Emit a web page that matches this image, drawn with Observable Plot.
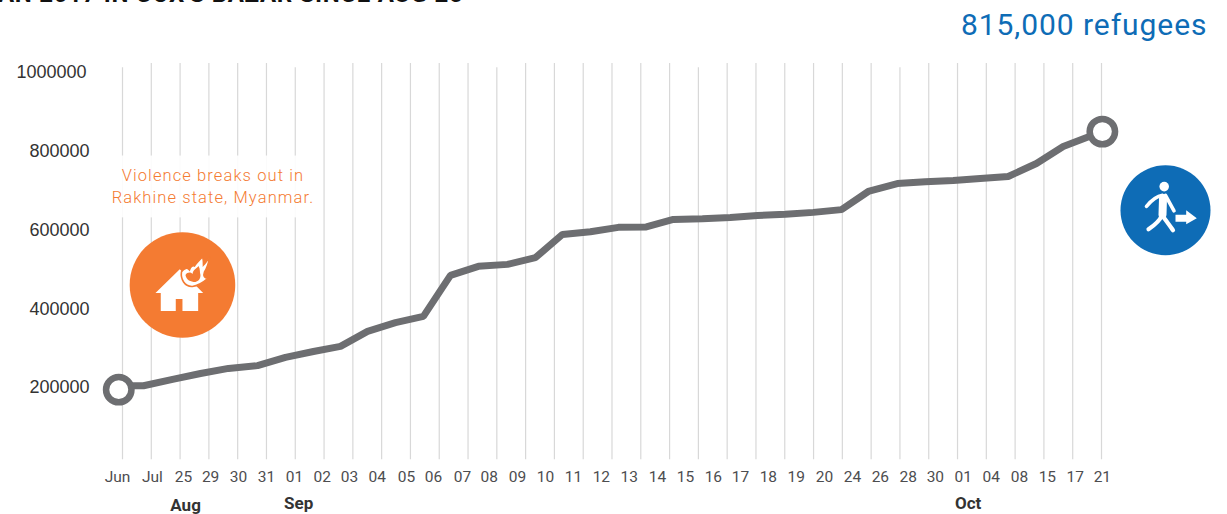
<!DOCTYPE html>
<html>
<head>
<meta charset="utf-8">
<script src="https://cdn.jsdelivr.net/npm/d3@7"></script>
<script src="https://cdn.jsdelivr.net/npm/@observablehq/plot@0.6"></script>
<style>
html,body{margin:0;padding:0;background:#fff;overflow:hidden}
svg{display:block}
.lsNote text{letter-spacing:1.1px}
.lsTotal text{letter-spacing:.95px}
.lsTitle text{letter-spacing:.7px}
</style>
</head>
<body>
<div id="chart"></div>
<script>
const tickLabels = ["Jun","Jul","25","29","30","31","01","02","03","04","05","06","07","08","09","10","11","12","13","14","15","16","17","18","19","20","24","26","28","30","01","04","08","15","17","21"];
const tickPositions = [-0.17,1.04,2.12,3.06,4.03,5.00,5.97,6.94,7.88,8.85,9.86,10.80,11.81,12.74,13.72,14.69,15.66,16.63,17.60,18.58,19.55,20.52,21.46,22.43,23.40,24.38,25.35,26.32,27.29,28.23,29.20,30.17,31.15,32.12,33.09,34.03];
const seriesPositions = [-0.10,0.73,1.74,2.71,3.68,4.69,5.66,6.63,7.57,8.51,9.48,10.45,11.39,12.36,13.37,14.34,15.28,16.25,17.22,18.19,19.13,20.14,21.11,22.05,23.02,23.99,24.97,25.90,26.91,27.88,28.85,29.79,30.76,31.74,32.67,34.03];
const refugees = [205000,205000,221000,236000,249000,256000,277000,292000,305000,343000,365000,381000,485000,508000,513000,530000,589000,596000,607000,608000,627000,629000,632000,637000,640000,645000,652000,698000,718000,723000,726000,731000,736000,769000,812000,850000];
const ringPositions = [-0.13,34.03];
const ringValues = [195000,850000];
const gridLines = d3.range(35);
const shortGridLines = [0,6,13,20,27];
const yTicks = [200000,400000,600000,800000];
const yTopTick = [1000000];
const monthNames = ["Sep","Oct"];
const monthPositions = [6.12,29.37];
const lowMonth = ["Aug"];
const lowMonthPosition = [2.19];
const violence = ["Violence breaks out in","Rakhine state, Myanmar."];

const series = refugees.map((v,i)=>({x:seriesPositions[i],v}));
const ticks = tickLabels.map((t,i)=>({t,x:tickPositions[i]}));
const rings = ringValues.map((v,i)=>({x:ringPositions[i],v}));

const ink="#4d4d4f", grey="#6d6e71", orange="#f47b32", blue="#0e6cb6";
const dinFont="Roboto, sans-serif";

function badge(px,py,r,color,draw){
  return (index,scales,values,dims)=>{
    const g=d3.create("svg:g").attr("transform",`translate(${scales.x(px)},${scales.y(py)})`);
    g.append("circle").attr("r",r).attr("fill",color);
    draw(g);
    return g.node();
  };
}
const houseIcon = badge(2.1,459500,52.8,orange,g=>{
  g.append("path").attr("fill","#fff").attr("d","M-27,8L-2.7,-15.7L20.7,8H15.7V26H0V14H-6.7V26H-21.7V8Z");
  g.append("path").attr("fill","#fff").attr("stroke",orange).attr("stroke-width",1.6)
   .attr("d","M-1,-13C-2,-6 2,2 10,1.5C15,1 19,-1 25.5,-6.5C22,-7 20.5,-9 22,-13C24,-16 26,-21 27,-27C24,-24 23,-22 21,-20C21,-23 21,-26 20,-28C17,-25 14,-22 12,-19C10,-20 8,-18 7,-15C5,-17 2,-18 -1,-13Z");
  g.append("path").attr("fill",orange)
   .attr("d","M3,-10C4,-5 8,-3 13,-3C16,-4 18,-6 18,-10C17,-13 18,-16 16,-19C14,-16 11,-16 10,-11C8,-13 5,-13 3,-10Z");
});
const walkerIcon = badge(36.24,649000,45,blue,g=>{
  g.append("circle").attr("cx",-1.3).attr("cy",-23.7).attr("r",4.8).attr("fill","#fff");
  const limb=(d,w)=>g.append("path").attr("d",d).attr("fill","none").attr("stroke","#fff").attr("stroke-width",w).attr("stroke-linecap","round").attr("stroke-linejoin","round");
  limb("M-3,-15C-9,-14 -14,-10 -19,-4",3.6);
  limb("M0,-15L8.5,0.5",3.6);
  limb("M-2.5,-12L-3,4",8);
  limb("M-3.5,5C-6,11 -11,15 -17,19",4.2);
  limb("M-3.5,5C0,9 4,15 7.5,20",4.2);
  g.append("path").attr("fill","#fff").attr("d","M10,4.5H20.7V0L31.3,8L20.7,14V11.5H10Z");
});

const chart = Plot.plot({
  width:1227,height:514,
  marginLeft:122,marginRight:126,marginTop:72,marginBottom:48,
  style:{background:"#fff",fontFamily:dinFont},
  x:{type:"linear",domain:[0,34],axis:null},
  y:{domain:[0,1000000],axis:null},
  marks:[
    Plot.ruleX(gridLines,{x:d=>d,y1:17000,y2:d=>shortGridLines.includes(d)?1012000:1023000,stroke:"#d8d8d8",strokeWidth:1.2}),
    Plot.rect([0],{x1:-0.43,x2:6.8,y1:631000,y2:788000,fill:"#fff",fillOpacity:0.9}),
    Plot.text(yTicks,{y:d=>d,text:d=>String(d),frameAnchor:"left",textAnchor:"end",dx:-33,fontSize:18,fill:"#333",fontFamily:"Liberation Sans"}),
    Plot.text(yTopTick,{y:d=>d,text:d=>String(d),frameAnchor:"left",textAnchor:"end",dx:-36,fontSize:18,fill:"#333",fontFamily:"Liberation Sans"}),
    Plot.text(ticks,{x:"x",text:"t",frameAnchor:"bottom",lineAnchor:"middle",dy:11,fontSize:15.5,fill:ink,fontFamily:dinFont}),
    Plot.text(monthNames,{x:(d,i)=>monthPositions[i],text:d=>d,frameAnchor:"bottom",lineAnchor:"middle",dy:37,fontSize:17,fontWeight:700,fill:"#333",fontFamily:dinFont}),
    Plot.text(lowMonth,{x:(d,i)=>lowMonthPosition[i],text:d=>d,frameAnchor:"bottom",lineAnchor:"middle",dy:39,fontSize:17,fontWeight:700,fill:"#333",fontFamily:dinFont}),
    Plot.line(series,{x:"x",y:"v",stroke:grey,strokeWidth:7,strokeLinejoin:"miter"}),
    Plot.dot(rings,{x:"x",y:"v",r:12.7,stroke:grey,strokeWidth:6.5,fill:"#fff"}),
    Plot.text(violence,{x:3.14,y:(d,i)=>[737000,683000][i],text:d=>d,fontSize:16.5,fill:orange,fontFamily:dinFont,fontWeight:300,className:"lsNote"}),
    houseIcon,
    walkerIcon,
    Plot.text(["815,000 refugees"],{frameAnchor:"top-right",lineAnchor:"middle",textAnchor:"end",dx:106,dy:-47,fontSize:30,fontWeight:400,fill:blue,fontFamily:dinFont,className:"lsTotal"}),
    Plot.text(["AN 2017 IN COX'S BAZAR SINCE AUG 25"],{frameAnchor:"top-left",textAnchor:"end",lineAnchor:"bottom",dx:341,dy:-70.5,fontSize:24,fontWeight:700,fill:"#111",fontFamily:dinFont,className:"lsTitle"})
  ]
});
document.getElementById("chart").append(chart);
</script>
</body>
</html>
